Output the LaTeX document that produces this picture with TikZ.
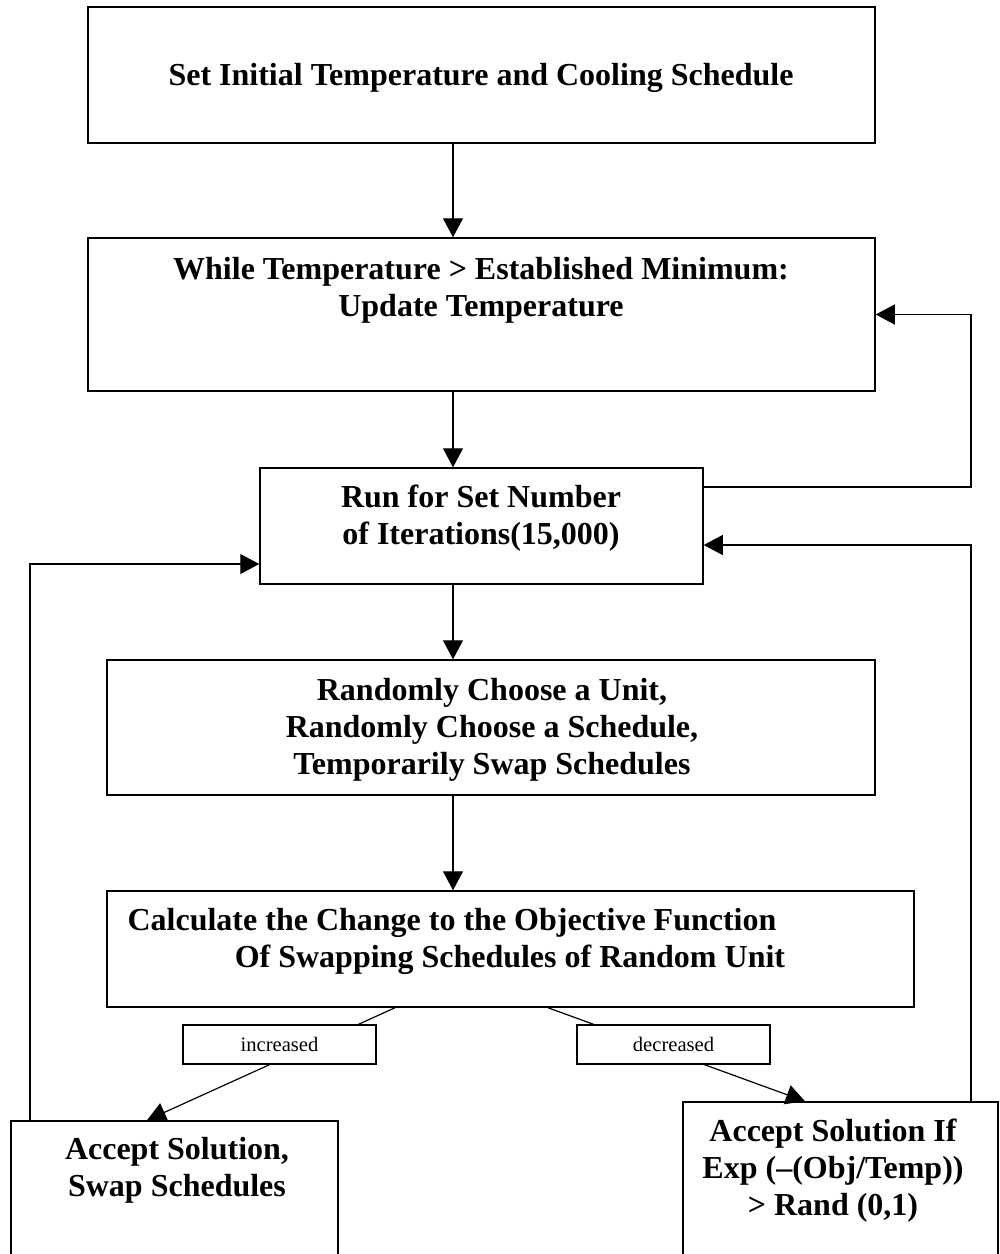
\documentclass[tikz,border=0pt]{standalone}
\usepackage{fontspec}
\setmainfont{Liberation Serif}
\usepackage{tikz}
\usetikzlibrary{arrows.meta}
\usetikzlibrary{fit}
\newcommand{\boxfont}{\fontsize{16}{18.5}\selectfont\bfseries}
\newcommand{\tagfont}{\fontsize{10.3}{12}\selectfont}
\newcommand{\shiftline}{58pt}
\tikzset{
    frame/.style={draw, rectangle, line width=0.75pt, inner sep=0pt},
    txt/.style={align=center, font=\boxfont, inner sep=0pt},
    tag/.style={draw, fill=white, rectangle, line width=0.6pt, inner sep=0pt,
                minimum width=96.5pt, minimum height=19.5pt, font=\tagfont},
    flow/.style={-{Triangle[length=9.5pt, width=10pt]}, line width=0.6pt},
    link/.style={line width=0.6pt}
}

\begin{document}
\begin{tikzpicture}[x=0.5pt, y=-0.5pt]
    \clip (0,0) rectangle (1000,1254);
    \fill[white] (0,0) rectangle (1000,1254);

    % boxes
    \node[frame, fit={(88,7) (875,143)}] (init) {};
    \node[frame, fit={(88,238) (875,391)}] (temp) {};
    \node[frame, fit={(260,468) (703,584)}] (run) {};
    \node[frame, fit={(107,660) (875,795)}] (pick) {};
    \node[frame, fit={(107,891) (914,1007)}] (calc) {};
    \node[frame, fit={(11,1121) (338,1280)}] (swap) {};
    \node[frame, fit={(683,1102) (998,1280)}] (accept-if) {};

    % texts
    \node[txt] (init-text) at (481,78) {Set Initial Temperature and Cooling Schedule};
    \node[txt] (temp-text) at (481,290) {While Temperature > Established Minimum:\\Update Temperature};
    \node[txt] (run-text) at (481,518) {Run for Set Number\\of Iterations(15,000)};
    \node[txt] (pick-text) at (492,730) {Randomly Choose a Unit,\\Randomly Choose a Schedule,\\Temporarily Swap Schedules};
    \node[txt] (calc-text) at (510,941) {Calculate the Change to the Objective Function\rule{\shiftline}{0pt}\\Of Swapping Schedules of Random Unit};
    \node[txt] (swap-text) at (177,1170) {Accept Solution,\\Swap Schedules};
    \node[txt] (accept-if-text) at (833,1171) {Accept Solution If\\Exp (–(Obj/Temp))\\> Rand (0,1)};

    % main line
    \coordinate (spine) at (453,0);
    \coordinate (rtrack) at (971,0);
    \coordinate (ltrack) at (30,0);
    \draw[flow] (init.south -| spine) -- (temp.north -| spine);
    \draw[flow] (temp.south -| spine) -- (run.north -| spine);
    \draw[flow] (run.south -| spine) -- (pick.north -| spine);
    \draw[flow] (pick.south -| spine) -- (calc.north -| spine);

    % loops back
    \draw[flow] (run.east |- 0,487) -| (rtrack |- temp.east) -- (temp.east);
    \draw[flow] (accept-if.north -| rtrack) |- (run.east |- 0,545);
    \draw[flow] (swap.north -| ltrack) |- (run.west |- 0,564);

    % branches
    \draw[flow] (calc.south -| 395,0) -- (swap.north -| 147,0);
    \draw[flow] (calc.south -| 548,0) -- (accept-if.north -| 805,0);
    \node[tag] (inc) at (279.5,1044.5) {increased};
    \node[tag] (dec) at (673.5,1044.5) {decreased};
\end{tikzpicture}
\end{document}
